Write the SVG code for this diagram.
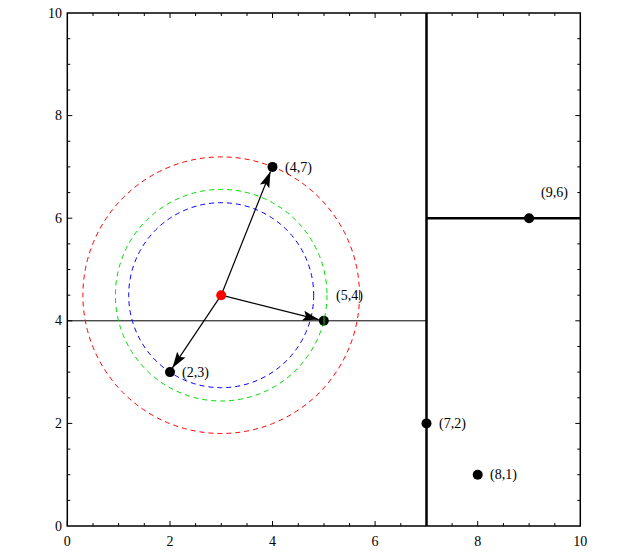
<svg xmlns="http://www.w3.org/2000/svg" width="634" height="558" viewBox="0 0 634 558">
<style>
text{font-family:"Liberation Serif","Times New Roman",serif;font-size:14px;fill:#000}
.ax{fill:none;stroke:#000;stroke-width:1.5}
.tk{stroke:#000;stroke-width:1}
.thin{stroke:#000;stroke-width:1}
.thick{stroke:#000;stroke-width:2.5}
.circ{fill:none;stroke-width:1;stroke-dasharray:5,4}
.arr{stroke:#000;stroke-width:1.2;fill:none;marker-end:url(#ah)}
.pt{fill:#000}
</style>
<defs>
<marker id="ah" markerUnits="userSpaceOnUse" markerWidth="20" markerHeight="12" viewBox="-1 -6 20 12" refX="16" refY="0" orient="auto">
<path d="M0,-5 L16,0 L0,5 L3,0 z" fill="#000"/>
</marker>
</defs>
<rect width="634" height="558" fill="#fff"/>
<g id="axes">
<rect class="ax" x="67.3" y="13" width="513" height="513"/>
<g class="tk">
<path d="M67.3,526v-5M170,526v-5M272.5,526v-5M375.1,526v-5M477.7,526v-5M93,526v-3M118.6,526v-3M144.3,526v-3M195.6,526v-3M221.3,526v-3M247,526v-3M298.3,526v-3M324,526v-3M349.6,526v-3M400.8,526v-3M426.5,526v-3M452.1,526v-3M503.4,526v-3M529.1,526v-3M554.8,526v-3"/>
<path d="M170,13v5M272.5,13v5M375.1,13v5M477.7,13v5M93,13v3M118.6,13v3M144.3,13v3M195.6,13v3M221.3,13v3M247,13v3M298.3,13v3M324,13v3M349.6,13v3M400.8,13v3M426.5,13v3M452.1,13v3M503.4,13v3M529.1,13v3M554.8,13v3"/>
<path d="M67.3,423.4h5M67.3,320.8h5M67.3,218.2h5M67.3,115.6h5M67.3,500.4h3M67.3,474.7h3M67.3,449.1h3M67.3,397.8h3M67.3,372.1h3M67.3,346.5h3M67.3,295.2h3M67.3,269.5h3M67.3,243.9h3M67.3,192.6h3M67.3,166.9h3M67.3,141.3h3M67.3,90h3M67.3,64.3h3M67.3,38.7h3"/>
<path d="M580.3,423.4h-5M580.3,320.8h-5M580.3,218.2h-5M580.3,115.6h-5M580.3,500.4h-3M580.3,474.7h-3M580.3,449.1h-3M580.3,397.8h-3M580.3,372.1h-3M580.3,346.5h-3M580.3,295.2h-3M580.3,269.5h-3M580.3,243.9h-3M580.3,192.6h-3M580.3,166.9h-3M580.3,141.3h-3M580.3,90h-3M580.3,64.3h-3M580.3,38.7h-3"/>
</g>
<g text-anchor="middle">
<text x="67.3" y="546">0</text>
<text x="170" y="546">2</text>
<text x="272.5" y="546">4</text>
<text x="375.1" y="546">6</text>
<text x="477.7" y="546">8</text>
<text x="580.3" y="546">10</text>
</g>
<g text-anchor="end">
<text x="62" y="531">0</text>
<text x="62" y="428">2</text>
<text x="62" y="325">4</text>
<text x="62" y="223">6</text>
<text x="62" y="120">8</text>
<text x="62" y="18">10</text>
</g>
</g>
<g id="partitions">
<line class="thin" x1="67.3" y1="320.8" x2="426.5" y2="320.8"/>
<line class="thick" x1="426.5" y1="13" x2="426.5" y2="526"/>
<line class="thick" x1="426.5" y1="218.2" x2="580.3" y2="218.2"/>
</g>
<g id="circles">
<circle class="circ" cx="221.2" cy="295.2" r="138.3" stroke="#ff0000"/>
<circle class="circ" cx="221.2" cy="295.2" r="105.8" stroke="#00dd00"/>
<circle class="circ" cx="221.2" cy="295.2" r="92.5" stroke="#0000ff"/>
</g>
<g id="connectors">
<line class="arr" x1="221.2" y1="295.2" x2="270.5" y2="171.5"/>
<line class="arr" x1="221.2" y1="295.2" x2="318.7" y2="319.6"/>
<line class="arr" x1="221.2" y1="295.2" x2="172.4" y2="367.9"/>
</g>
<g id="query"><circle cx="221.2" cy="295.2" r="5" fill="#ff0000"/></g>
<g id="p23"><circle class="pt" cx="170" cy="372.1" r="5"/><text x="182" y="377">(2,3)</text></g>
<g id="p47"><circle class="pt" cx="272.5" cy="166.9" r="5"/><text x="285" y="172">(4,7)</text></g>
<g id="p54"><circle class="pt" cx="323.8" cy="320.8" r="5"/><path d="M324,316 v10" stroke="#00dd00" stroke-width="1"/><text x="336" y="300">(5,4)</text></g>
<g id="p72"><circle class="pt" cx="426.5" cy="423.4" r="5"/><text x="439" y="428">(7,2)</text></g>
<g id="p81"><circle class="pt" cx="477.7" cy="474.7" r="5"/><text x="490" y="479">(8,1)</text></g>
<g id="p96"><circle class="pt" cx="529.1" cy="218.2" r="5"/><text x="541" y="197">(9,6)</text></g>
</svg>
